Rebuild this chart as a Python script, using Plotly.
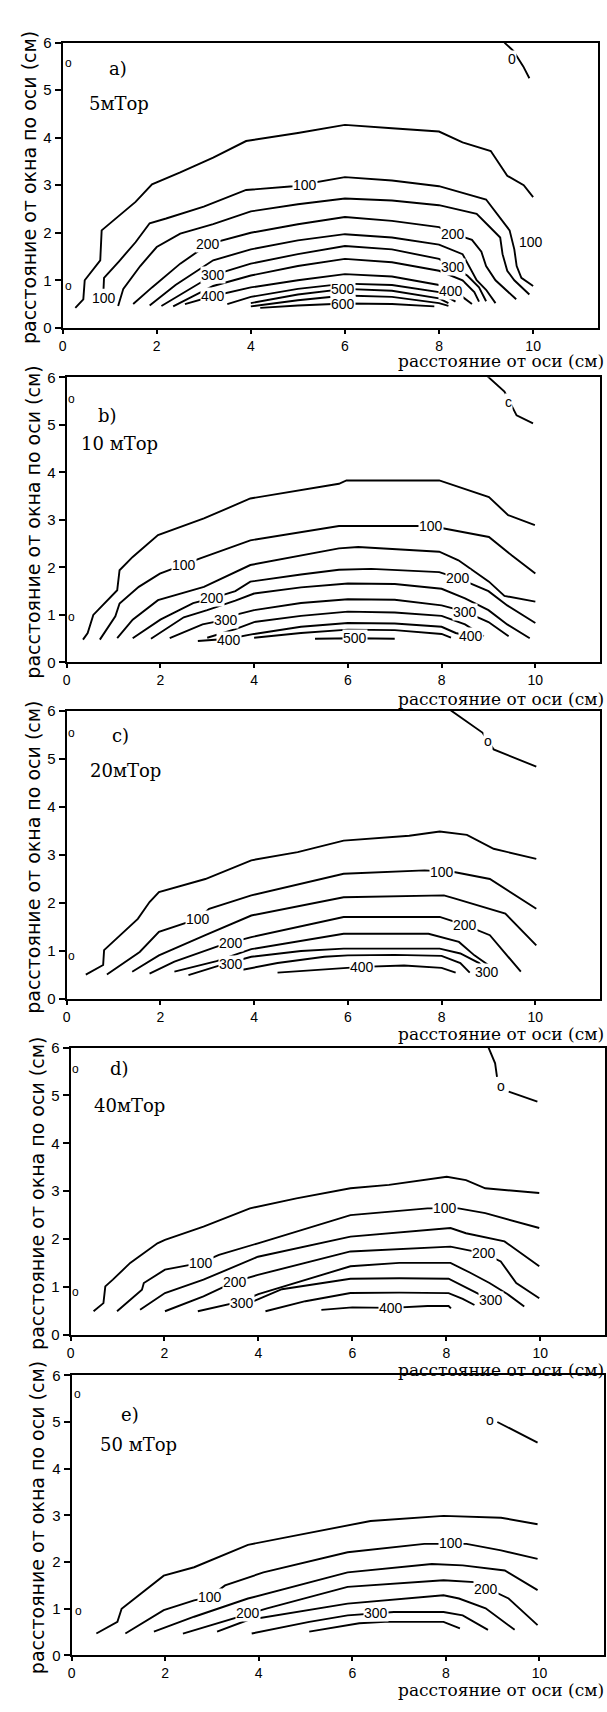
import plotly.graph_objects as go

W, H = 607, 1712

# ---------------- data ----------------
panel_letters = ["a)", "b)", "c)", "d)", "e)"]
pressures = ["5мТор", "10 мТор", "20мТор", "40мТор", "50 мТор"]
x_ticks = [0, 2, 4, 6, 8, 10]
y_ticks = [0, 1, 2, 3, 4, 5, 6]
x_title = "расстояние от оси (см)"
y_title = "расстояние от окна по оси (см)"

# contour polylines (x cm, y cm) per panel, outermost first
a_lines = [
    [(9.39,6.0),(9.58,5.83),(9.79,5.5),(9.92,5.25)],
    [(0.27,0.42),(0.44,0.6),(0.47,1.0),(0.8,1.42),(0.83,2.05),(1.2,2.35),(1.55,2.65),(1.9,3.02),(2.5,3.27),(3.2,3.58),(3.9,3.93),(5.0,4.1),(6.0,4.27),(7.0,4.2),(8.0,4.13),(8.5,3.9),(9.1,3.72),(9.45,3.2),(9.8,3.0),(10.0,2.75)],
    [(0.87,0.82),(0.88,1.05),(1.2,1.4),(1.55,1.8),(1.85,2.2),(2.2,2.3),(3.0,2.55),(3.9,2.9),(4.9,2.98),(6.0,3.17),(7.0,3.1),(8.0,2.98),(9.0,2.7),(9.3,2.3),(9.5,2.05),(9.6,1.65),(9.65,1.3),(9.75,1.05),(10.0,0.88)],
    [(1.18,0.46),(1.29,0.82),(1.65,1.3),(2.0,1.7),(2.5,1.98),(3.2,2.18),(4.0,2.45),(5.0,2.6),(6.0,2.72),(7.0,2.68),(8.0,2.58),(8.8,2.4),(9.1,2.1),(9.3,1.9),(9.35,1.55),(9.45,1.2),(9.6,1.0),(9.92,0.7)],
    [(1.5,0.5),(1.9,0.85),(2.5,1.35),(3.1,1.76),(4.0,2.0),(5.0,2.18),(6.0,2.33),(7.0,2.25),(8.0,2.12),(8.3,1.98),(8.7,1.85),(8.9,1.6),(9.0,1.3),(9.2,1.0),(9.64,0.6)],
    [(1.85,0.47),(2.4,0.9),(3.2,1.42),(4.0,1.65),(5.0,1.84),(6.0,1.97),(7.0,1.9),(8.0,1.75),(8.5,1.55),(8.7,1.2),(8.8,1.0),(9.0,0.8),(9.2,0.52)],
    [(2.1,0.46),(2.6,0.75),(3.2,1.11),(4.0,1.35),(5.0,1.55),(6.0,1.72),(7.0,1.65),(8.0,1.45),(8.3,1.27),(8.6,1.1),(8.85,0.85),(9.0,0.56)],
    [(2.35,0.45),(3.2,0.88),(4.0,1.1),(5.0,1.3),(6.0,1.45),(7.0,1.38),(8.0,1.2),(8.5,1.0),(8.75,0.75),(8.85,0.55)],
    [(2.6,0.5),(3.2,0.67),(4.0,0.85),(5.0,1.0),(6.0,1.13),(7.0,1.08),(8.0,0.9),(8.25,0.77),(8.5,0.65),(8.7,0.5)],
    [(3.5,0.5),(4.0,0.65),(5.0,0.82),(6.0,0.93),(7.0,0.9),(8.0,0.75),(8.35,0.55)],
    [(4.0,0.52),(5.0,0.7),(6.0,0.82),(7.0,0.78),(8.0,0.62),(8.2,0.52)],
    [(4.0,0.45),(5.0,0.58),(6.0,0.68),(7.0,0.65),(8.0,0.52),(8.2,0.46)],
    [(4.2,0.42),(5.0,0.47),(6.0,0.51),(7.0,0.5),(7.9,0.45)],
]
a_labels = [("0",9.55,5.65),("100",5.15,3.01),("100",0.87,0.63),("100",9.95,1.8),
            ("200",3.1,1.76),("200",8.3,1.97),("300",3.2,1.11),("300",8.3,1.27),
            ("400",3.2,0.67),("400",8.25,0.77),("500",5.95,0.82),("600",5.95,0.51)]

b_lines = [
    [(8.97,6.03),(9.34,5.7),(9.6,5.2),(9.95,5.03)],
    [(0.35,0.48),(0.45,0.62),(0.57,1.0),(1.08,1.52),(1.13,1.94),(1.41,2.22),(1.95,2.68),(2.93,3.03),(3.92,3.45),(5.0,3.62),(5.81,3.76),(5.97,3.83),(7.95,3.83),(9.01,3.48),(9.42,3.1),(9.99,2.89)],
    [(0.71,0.48),(1.04,0.97),(1.13,1.24),(1.54,1.59),(1.99,1.87),(2.5,2.05),(2.85,2.19),(3.92,2.57),(5.0,2.75),(5.81,2.87),(7.77,2.87),(8.03,2.82),(9.01,2.64),(9.5,2.25),(10.0,1.87)],
    [(1.08,0.51),(1.41,0.9),(1.95,1.31),(2.93,1.59),(3.92,2.05),(5.0,2.25),(5.81,2.4),(6.22,2.43),(7.95,2.33),(8.36,2.15),(9.01,1.7),(9.34,1.4),(10.0,1.28)],
    [(1.41,0.51),(2.0,0.9),(2.7,1.25),(3.1,1.35),(3.6,1.5),(3.92,1.7),(5.0,1.85),(5.81,1.95),(6.5,1.97),(7.95,1.9),(8.36,1.77),(9.0,1.5),(9.4,1.2),(10.0,0.83)],
    [(1.8,0.5),(2.5,0.95),(3.0,1.1),(3.6,1.3),(4.0,1.45),(5.0,1.58),(6.0,1.66),(7.0,1.65),(8.0,1.55),(8.5,1.35),(9.0,1.1),(9.4,0.8),(9.88,0.51)],
    [(2.2,0.51),(2.9,0.8),(3.4,0.9),(3.6,1.0),(4.0,1.1),(5.0,1.25),(6.0,1.33),(7.0,1.32),(8.0,1.2),(8.5,1.07),(9.0,0.85),(9.43,0.55)],
    [(3.0,0.52),(3.6,0.7),(4.0,0.85),(5.0,0.98),(6.0,1.07),(7.0,1.05),(8.0,0.98),(8.5,0.8),(8.9,0.55)],
    [(2.8,0.45),(3.46,0.5),(4.0,0.6),(5.0,0.75),(6.0,0.83),(7.0,0.82),(8.0,0.75),(8.3,0.62),(8.62,0.55)],
    [(4.0,0.52),(5.0,0.62),(6.0,0.69),(7.0,0.68),(8.0,0.6),(8.2,0.52)],
    [(5.3,0.5),(6.15,0.51),(7.0,0.5)],
]
b_labels = [("c",9.42,5.48),("100",2.5,2.05),("100",7.77,2.87),("200",3.1,1.35),("200",8.36,1.77),
            ("300",3.4,0.9),("300",8.5,1.07),("400",3.46,0.48),("400",8.62,0.55),("500",6.15,0.51)]

c_lines = [
    [(8.17,6.03),(8.87,5.55),(9.11,5.2),(9.36,5.1),(10.02,4.84)],
    [(0.41,0.51),(0.78,0.71),(0.8,1.02),(1.52,1.67),(1.77,2.02),(1.97,2.23),(2.96,2.5),(3.94,2.89),(4.93,3.06),(5.91,3.3),(7.31,3.4),(7.96,3.49),(8.54,3.42),(9.11,3.13),(10.02,2.92)],
    [(0.86,0.51),(1.56,0.98),(1.97,1.4),(2.8,1.67),(3.04,1.88),(3.94,2.16),(5.91,2.61),(7.64,2.68),(8.29,2.64),(9.03,2.5),(10.02,1.88)],
    [(1.4,0.57),(1.97,0.91),(2.96,1.33),(3.94,1.74),(5.91,2.12),(8.05,2.16),(8.29,2.09),(9.36,1.78),(10.02,1.12)],
    [(1.77,0.53),(2.3,0.78),(3.28,1.12),(3.94,1.29),(5.91,1.71),(7.96,1.71),(8.5,1.54),(9.03,1.33),(9.69,0.57)],
    [(2.3,0.57),(3.2,0.79),(3.94,1.04),(5.91,1.36),(7.72,1.36),(8.37,1.19),(8.7,0.91),(9.2,0.57)],
    [(2.6,0.5),(3.2,0.68),(3.94,0.88),(5.0,1.0),(5.91,1.05),(7.0,1.05),(7.96,1.05),(8.4,0.95),(8.8,0.75),(8.97,0.57)],
    [(3.7,0.6),(4.5,0.75),(5.5,0.88),(6.0,0.91),(7.0,0.92),(8.0,0.9),(8.4,0.75),(8.6,0.55)],
    [(4.5,0.55),(5.5,0.62),(6.3,0.67),(7.2,0.7),(8.0,0.65),(8.3,0.55)],
]
c_labels = [("o",8.99,5.38),("100",2.8,1.67),("100",8.0,2.64),("200",3.51,1.16),("200",8.5,1.54),
            ("300",3.5,0.74),("300",8.97,0.57),("400",6.3,0.67)]

d_lines = [
    [(8.9,6.0),(9.04,5.67),(9.08,5.39)],
    [(9.33,5.08),(9.94,4.87)],
    [(0.49,0.49),(0.7,0.66),(0.74,1.01),(0.9,1.15),(1.27,1.5),(1.85,1.91),(2.01,1.98),(2.83,2.26),(3.82,2.64),(4.81,2.85),(5.96,3.06),(6.78,3.13),(8.01,3.3),(8.42,3.23),(8.83,3.06),(9.98,2.96)],
    [(0.99,0.49),(1.52,0.94),(1.56,1.08),(2.01,1.36),(2.77,1.5),(3.16,1.67),(3.99,1.91),(5.96,2.5),(7.6,2.64),(8.26,2.64),(8.83,2.54),(9.98,2.23)],
    [(1.48,0.52),(2.01,0.87),(2.83,1.15),(3.99,1.63),(5.96,2.05),(7.6,2.19),(8.09,2.23),(8.42,2.12),(9.24,1.95),(9.98,1.43)],
    [(2.01,0.49),(2.83,0.8),(3.5,1.11),(3.99,1.25),(5.96,1.74),(8.09,1.84),(8.8,1.7),(9.16,1.53),(9.49,1.08),(9.98,0.76)],
    [(2.71,0.49),(3.2,0.6),(3.66,0.7),(4.0,0.85),(5.0,1.15),(5.96,1.43),(7.0,1.5),(8.09,1.5),(8.5,1.3),(8.92,1.08),(9.3,0.85),(9.66,0.59)],
    [(3.9,0.7),(4.5,0.95),(5.96,1.17),(7.0,1.18),(8.05,1.17),(8.4,1.0),(8.75,0.82)],
    [(4.15,0.49),(5.0,0.7),(5.96,0.87),(7.0,0.88),(8.05,0.87),(8.35,0.75),(8.6,0.62)],
    [(5.34,0.52),(6.0,0.57),(6.83,0.56),(7.6,0.6),(8.05,0.6),(8.1,0.55)],
]
d_labels = [("o",9.16,5.2),("100",2.77,1.5),("100",7.97,2.64),("200",3.5,1.11),("200",8.8,1.7),
            ("300",3.66,0.66),("300",8.95,0.73),("400",6.83,0.56)]

e_lines = [
    [(9.1,5.0),(9.96,4.56)],
    [(0.53,0.47),(0.98,0.72),(1.07,1.0),(1.97,1.71),(2.62,1.89),(3.77,2.37),(4.75,2.56),(5.9,2.78),(6.39,2.88),(7.95,2.99),(9.18,2.95),(9.96,2.81)],
    [(1.15,0.47),(1.97,0.97),(2.62,1.18),(2.95,1.25),(3.28,1.5),(4.1,1.78),(5.9,2.21),(7.54,2.39),(8.44,2.39),(9.18,2.25),(9.96,2.07)],
    [(1.76,0.51),(2.62,0.83),(3.77,1.22),(5.9,1.78),(7.7,1.96),(8.36,1.93),(9.26,1.82),(9.96,1.4)],
    [(2.38,0.47),(3.44,0.79),(3.77,0.9),(4.18,1.01),(5.9,1.47),(7.95,1.61),(8.61,1.57),(9.34,1.22),(9.96,0.65)],
    [(3.11,0.51),(3.77,0.76),(5.9,1.11),(7.95,1.29),(8.28,1.22),(8.85,1.01),(9.47,0.55)],
    [(3.85,0.47),(5.08,0.72),(5.9,0.86),(6.89,0.93),(7.95,0.93),(8.36,0.86),(8.9,0.55)],
    [(5.08,0.51),(6.15,0.69),(6.7,0.72),(7.95,0.72),(8.3,0.58)],
]
e_labels = [("o",8.95,5.04),("100",2.95,1.25),("100",8.1,2.41),("200",3.77,0.9),("200",8.85,1.42),
            ("300",6.5,0.9)]

edge_marks = ["o", "o"]
edge_mark_pos = [[(0.12,5.58),(0.12,0.88)], [(0.1,5.55),(0.1,0.95)], [(0.1,5.55),(0.1,0.9)],
                 [(0.1,5.55),(0.1,0.9)], [(0.12,5.6),(0.15,0.95)]]

letter_pos = [(1.17,5.46),(0.88,5.2),(1.15,5.48),(1.05,5.56),(1.25,5.15)]
pressure_pos = [(1.2,4.73),(1.12,4.6),(1.25,4.75),(1.25,4.8),(1.43,4.51)]

all_lines = [a_lines, b_lines, c_lines, d_lines, e_lines]
all_labels = [a_labels, b_labels, c_labels, d_labels, e_labels]

# ---------------- layout (pixel frame of each panel) ----------------
frames = [  # left, right, top, bottom (px)
    (59, 598, 34, 322),
    (63, 600, 372, 660),
    (63, 600, 709, 1000),
    (67, 605, 1049, 1339),
    (68, 604, 1380, 1663),
]
xlabel_top = [344, 686, 1024, 1364, 1687]
X_MAX = 11.38

fig = go.Figure()
layout = dict(width=W, height=H, margin=dict(l=0, r=0, t=0, b=0),
              paper_bgcolor="white", plot_bgcolor="white", showlegend=False)
annotations = []

serif = "DejaVu Serif"
sans = "Liberation Sans"

for i, (l, r, t, b) in enumerate(frames):
    n = "" if i == 0 else str(i + 1)
    xa, ya = "x" + n, "y" + n
    layout["xaxis" + n] = dict(domain=[l / W, r / W], range=[0, X_MAX], anchor=ya,
                               tickvals=x_ticks, ticktext=[str(v) for v in x_ticks],
                               ticks="outside", ticklen=4, tickwidth=1.5, tickcolor="black",
                               showline=True, linecolor="black", linewidth=2, mirror=True,
                               showgrid=False, zeroline=False,
                               tickfont=dict(family=sans, size=14, color="black"))
    layout["yaxis" + n] = dict(domain=[1 - b / H, 1 - t / H], range=[0, 6], anchor=xa,
                               tickvals=y_ticks, ticktext=[str(v) for v in y_ticks],
                               ticks="outside", ticklen=6, tickwidth=1.5, tickcolor="black",
                               showline=True, linecolor="black", linewidth=2, mirror=True,
                               showgrid=False, zeroline=False,
                               tickfont=dict(family=sans, size=15, color="black"))
    for line in all_lines[i]:
        fig.add_trace(go.Scatter(x=[p[0] for p in line], y=[p[1] for p in line],
                                 mode="lines", xaxis=xa, yaxis=ya, hoverinfo="skip",
                                 line=dict(color="black", width=1.9)))
    for txt, x, y in all_labels[i]:
        annotations.append(dict(text=txt, x=x, y=y, xref=xa, yref=ya, showarrow=False,
                                bgcolor="white", borderpad=0,
                                font=dict(family=sans, size=14, color="black")))
    for m, (x, y) in zip(edge_marks, edge_mark_pos[i]):
        annotations.append(dict(text=m, x=x, y=y, xref=xa, yref=ya, showarrow=False,
                                font=dict(family=sans, size=12, color="black")))
    lx, ly = letter_pos[i]
    annotations.append(dict(text=panel_letters[i], x=lx, y=ly, xref=xa, yref=ya, showarrow=False,
                            font=dict(family=serif, size=18, color="black")))
    px_, py_ = pressure_pos[i]
    annotations.append(dict(text=pressures[i], x=px_, y=py_, xref=xa, yref=ya, showarrow=False,
                            font=dict(family=serif, size=18, color="black")))
    # axis titles
    annotations.append(dict(text=x_title, x=605 / W, y=1 - xlabel_top[i] / H, xref="paper", yref="paper",
                            xanchor="right", yanchor="top", showarrow=False, borderpad=0,
                            font=dict(family=serif, size=17, color="black")))
    annotations.append(dict(text=y_title, x=(l - 34) / W, y=1 - ((t + b) / 2 + 2) / H,
                            xref="paper", yref="paper", xanchor="center", yanchor="middle",
                            textangle=-90, showarrow=False, borderpad=0,
                            font=dict(family="DejaVu Sans", size=19, color="black")))

layout["annotations"] = annotations
fig.update_layout(**layout)
fig.write_html("out.html")
